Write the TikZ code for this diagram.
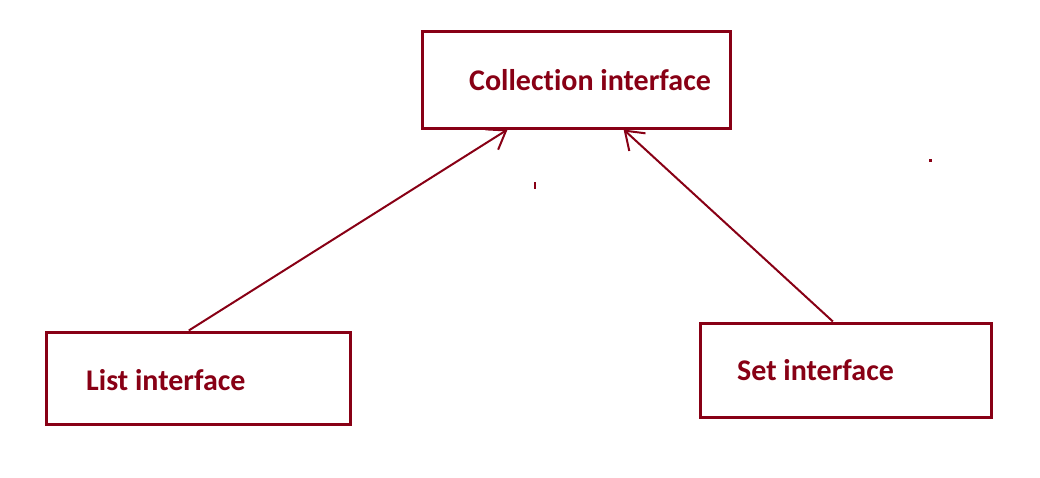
\documentclass[tikz,border=0pt]{standalone}
\usepackage{fontspec}
\setmainfont{Carlito}[Ligatures=NoCommon]
\usetikzlibrary{arrows.meta,calc}
\definecolor{darkred}{HTML}{880015}
\tikzset{
  ifbox/.style={draw=darkred, line width=3pt, fill=white, inner sep=0pt},
  iflab/.style={text=darkred, inner sep=0pt, anchor=base west,
    font=\fontsize{30pt}{36pt}\selectfont\bfseries},
  ext/.style={-{Straight Barb[length=17pt,width=24pt]}, line width=2pt, color=darkred},
}

\begin{document}
\begin{tikzpicture}[x=1pt,y=-1pt]
    \useasboundingbox (0,0) rectangle (1040,477);
    % interface boxes
    \node[ifbox, minimum width=308pt, minimum height=97pt] (coll) at (576,79.5) {};
    \node[ifbox, minimum width=304pt, minimum height=92pt] (list) at (198,378) {};
    \node[ifbox, minimum width=291pt, minimum height=94pt] (set) at (845.5,370) {};
    \node[iflab] (colltext) at (469,90) {Collection interface};
    \node[iflab] (listtext) at (86,390) {List interface};
    \node[iflab] (settext) at (737,380) {Set interface};
    % both extend Collection
    \draw[ext] ($(list.north west)!0.47!(list.north east)$) -- ($(coll.south west)!0.28!(coll.south east)$);
    \draw[ext] ($(set.north west)!0.457!(set.north east)$) -- ($(coll.south west)!0.653!(coll.south east)$);
    % stray marks
    \fill[darkred] (534,182) rectangle (536,189);
    \fill[darkred] (929,159) rectangle (932,162);
\end{tikzpicture}
\end{document}
